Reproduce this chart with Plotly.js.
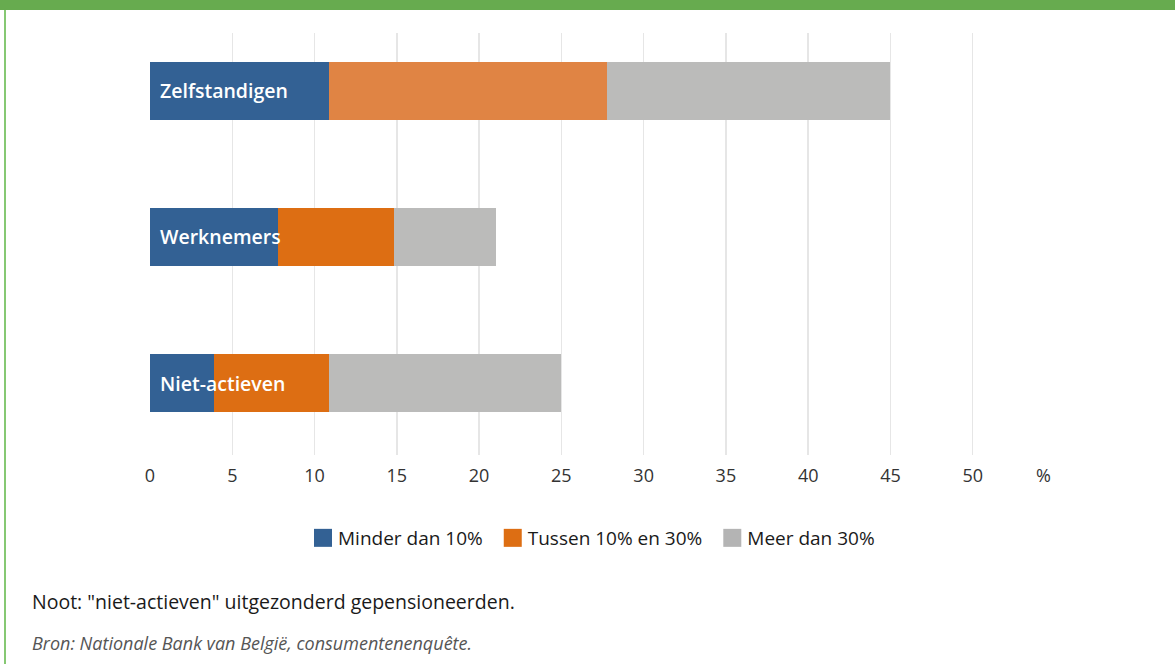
<!DOCTYPE html>
<html>
<head>
<meta charset="utf-8">
<script src="https://cdn.plot.ly/plotly-3.0.1.min.js"></script>
<style>
html,body{margin:0;padding:0;background:#fff;}
#wrap{position:relative;width:1175px;height:664px;overflow:hidden;}
#topbar{position:absolute;left:0;top:0;width:1175px;height:10px;background:#67AB4F;}
#leftbar{position:absolute;left:4px;top:10px;width:2px;height:654px;background:#86C873;}
#chart{position:absolute;left:0;top:0;width:1175px;height:664px;}
</style>
</head>
<body>
<div id="wrap">
<div id="chart"></div>
<div id="topbar"></div>
<div id="leftbar"></div>
</div>
<script>
const categories = ["Zelfstandigen", "Werknemers", "Niet-actieven"];
const seriesNames = ["Minder dan 10%", "Tussen 10% en 30%", "Meer dan 30%"];
const minderDan10 = [10.9, 7.8, 3.9];
const tussen10en30 = [16.9, 7.05, 7.0];
const meerDan30 = [17.2, 6.2, 14.1];
const tickValues = [0, 5, 10, 15, 20, 25, 30, 35, 40, 45, 50];
const unitLabel = "%";
const noteText = 'Noot: "niet-actieven" uitgezonderd gepensioneerden.';
const sourceText = "Bron: Nationale Bank van België, consumentenenquête.";

const FONT = "Open Sans, Lato, sans-serif";
const PL = 150, PR = 120, PT = 33, PB = 209, W = 1175, H = 664;
const plotW = W - PL - PR, plotH = H - PT - PB;
const px2paperX = px => (px - PL) / plotW;
const py2paperY = py => (H - PB - py) / plotH;

const traces = [
  {name: seriesNames[0], x: minderDan10, marker: {color: ["#336194", "#336194", "#336194"]}},
  {name: seriesNames[1], x: tussen10en30, marker: {color: ["#E08444", "#DD6E13", "#DD6E13"]}},
  {name: seriesNames[2], x: meerDan30, marker: {color: ["#BBBBBA", "#BBBBBA", "#BBBBBA"]}}
].map(t => Object.assign({
  type: "bar", orientation: "h", y: categories, width: 0.4,
  hoverinfo: "x+name"
}, t));

const legendColors = ["#336194", "#DD6E13", "#B4B4B4"];

const annotations = categories.map(c => ({
  x: 0, y: c, xref: "x", yref: "y", xanchor: "left", yanchor: "middle",
  xshift: 8, showarrow: false, text: c,
  font: {family: FONT, size: 19.5, color: "#ffffff", weight: 600}
}));
annotations.push({
  x: 54.3, y: py2paperY(475), xref: "x", yref: "paper", yanchor: "middle", xanchor: "center",
  showarrow: false, text: unitLabel, font: {family: FONT, size: 18, color: "#333333"}
});
annotations.push({
  x: px2paperX(30), y: py2paperY(601), xref: "paper", yref: "paper", xanchor: "left", yanchor: "middle",
  showarrow: false, text: noteText, font: {family: FONT, size: 19.5, color: "#1a1a1a"}
});
annotations.push({
  x: px2paperX(30), y: py2paperY(643), xref: "paper", yref: "paper", xanchor: "left", yanchor: "middle",
  showarrow: false, text: "<i>" + sourceText + "</i>", font: {family: FONT, size: 18, color: "#555555"}
});

const layout = {
  width: W, height: H,
  margin: {l: PL, r: PR, t: PT, b: PB},
  paper_bgcolor: "#ffffff", plot_bgcolor: "#ffffff",
  barmode: "stack",
  showlegend: true,
  legend: {
    orientation: "h", xref: "container", yref: "container",
    x: 594 / W, xanchor: "center", y: 1 - 538 / H, yanchor: "middle",
    font: {family: FONT, size: 19, color: "#1a1a1a"},
    itemwidth: 30, tracegroupgap: 0, traceorder: "normal"
  },
  xaxis: {
    range: [0, 55], tickvals: tickValues, ticktext: tickValues.map(String),
    showgrid: true, gridcolor: "#E6E6E6", gridwidth: 1.5,
    zeroline: false, showline: false, ticks: "", ticklabelstandoff: 8,
    tickfont: {family: FONT, size: 18, color: "#333333"},
    fixedrange: true
  },
  yaxis: {
    type: "category", categoryorder: "array", categoryarray: categories,
    range: [2.493, -0.397], showticklabels: false, showgrid: false,
    zeroline: false, showline: false, ticks: "", fixedrange: true
  },
  annotations: annotations,
  font: {family: FONT}
};

Plotly.newPlot("chart", traces, layout, {displayModeBar: false, staticPlot: true}).then(() => {
  const pts = document.querySelectorAll("#chart .legend .traces .legendpoints path");
  pts.forEach((p, i) => {
    if (legendColors[i]) p.style.fill = legendColors[i];
    p.setAttribute("transform", "translate(20,0) scale(1.5)");
  });
  document.querySelectorAll("#chart .legend .traces text.legendtext").forEach(t => {
    const x = parseFloat(t.getAttribute("x")) || 0;
    t.setAttribute("x", x - 5);
  });
});
</script>
</body>
</html>
